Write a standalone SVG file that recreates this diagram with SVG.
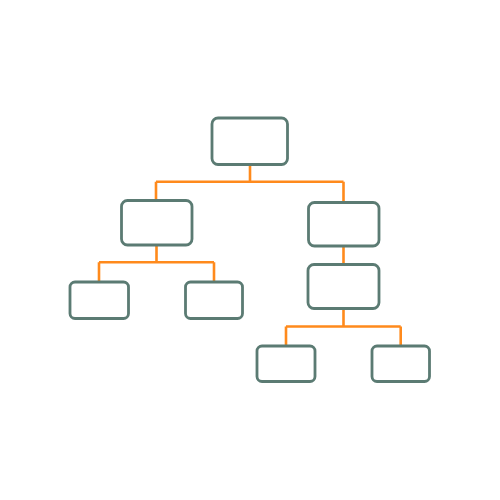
<svg xmlns="http://www.w3.org/2000/svg" width="500" height="500" viewBox="0 0 500 500">
<style>
.node rect{fill:#ffffff;stroke:#5b7b73;stroke-width:2.8}
.conn path{fill:none;stroke:#ff8a1c;stroke-width:2.6;stroke-linejoin:miter}
</style>
<rect width="500" height="500" fill="#ffffff"/>
<g class="conn" id="connectors">
<path d="M250,165 V181.7 M156,181.7 H343.5 M156,181.7 V200.5 M343.5,181.7 V202.5"/>
<path d="M156.5,245.5 V262.3 M99,262.3 H214 M99,262.3 V282 M214,262.3 V282"/>
<path d="M343.5,246 V264"/>
<path d="M343.5,309 V326.5 M286,326.5 H400.7 M286,326.5 V346 M400.7,326.5 V346"/>
</g>
<g class="node" id="n-root"><rect x="212" y="118" width="75.5" height="46.5" rx="6"/></g>
<g class="node" id="n-left"><rect x="121.5" y="200.5" width="70.5" height="44.5" rx="6"/></g>
<g class="node" id="n-right"><rect x="308.5" y="202.5" width="70.5" height="43.5" rx="6"/></g>
<g class="node" id="n-left-a"><rect x="70" y="282" width="58.5" height="36.5" rx="5"/></g>
<g class="node" id="n-left-b"><rect x="185.5" y="282" width="57" height="36.5" rx="5"/></g>
<g class="node" id="n-right-mid"><rect x="308" y="264.5" width="71" height="44" rx="6"/></g>
<g class="node" id="n-right-a"><rect x="257" y="346" width="58" height="35.5" rx="5"/></g>
<g class="node" id="n-right-b"><rect x="372" y="346" width="57.5" height="35.5" rx="5"/></g>
</svg>
